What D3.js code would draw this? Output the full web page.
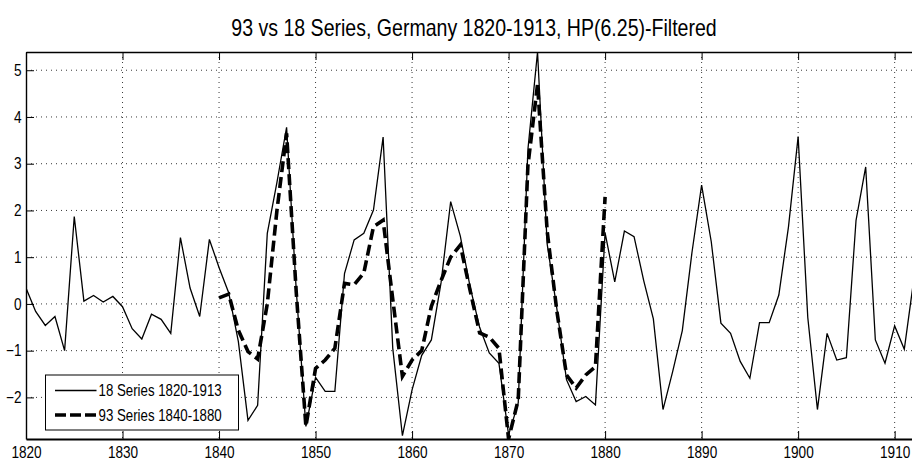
<!DOCTYPE html>
<html>
<head>
<meta charset="utf-8">
<script src="https://cdn.jsdelivr.net/npm/d3@7"></script>
<style>
  body { margin: 0; background: #fff; }
  text { font-family: "Liberation Sans", Arial, sans-serif; fill: #000; }
</style>
</head>
<body>
<svg id="chart" width="912" height="468"></svg>
<script>
// ---- data ----
var title = "93 vs 18 Series, Germany 1820-1913, HP(6.25)-Filtered";

// 18 series, yearly from 1820
var start18 = 1820;
var series18 = [
  0.34, -0.16, -0.46, -0.27, -1.00, 1.87, 0.06, 0.18, 0.04, 0.16,     // 1820-1829
  -0.06, -0.53, -0.75, -0.22, -0.33, -0.63, 1.42, 0.34, -0.27, 1.38,  // 1830-1839
  0.78, 0.24, -0.80, -2.49, -2.17, 1.51, 2.60, 3.78, 0.30, -2.62,     // 1840-1849
  -1.57, -1.87, -1.87, 0.65, 1.37, 1.51, 2.01, 3.57, -0.95, -2.82,    // 1850-1859
  -1.84, -1.10, -0.77, 0.45, 2.19, 1.45, 0.38, -0.50, -1.05, -1.27,   // 1860-1869
  -2.80, -2.12, 3.30, 5.39, 1.28, -0.10, -1.62, -2.09, -1.98, -2.16,  // 1870-1879
  1.52, 0.47, 1.56, 1.44, 0.50, -0.32, -2.26, -1.45, -0.57, 1.10,     // 1880-1889
  2.54, 1.33, -0.41, -0.63, -1.23, -1.59, -0.40, -0.40, 0.19, 1.65,   // 1890-1899
  3.58, -0.29, -2.26, -0.63, -1.20, -1.15, 1.79, 2.93, -0.77, -1.27,  // 1900-1909
  -0.47, -0.97, 0.55, 0.30                                            // 1910-1913
];

// 93 series, yearly from 1840
var start93 = 1840;
var series93 = [
  0.13, 0.21, -0.56, -1.02, -1.18, 0.00, 2.00, 3.65, 0.25, -2.62,     // 1840-1849
  -1.38, -1.20, -0.95, 0.44, 0.41, 0.66, 1.65, 1.79, 0.10, -1.55,     // 1850-1859
  -1.20, -1.00, -0.05, 0.50, 1.00, 1.26, 0.30, -0.62, -0.71, -0.95,   // 1860-1869
  -2.89, -2.05, 2.95, 4.70, 1.55, -0.15, -1.52, -1.80, -1.52, -1.34,  // 1870-1879
  2.29                                                                // 1880
];

var legendLabels = ["18 Series 1820-1913", "93 Series 1840-1880"];
var xTicks = [1820, 1830, 1840, 1850, 1860, 1870, 1880, 1890, 1900, 1910];
var yTicks = [-2, -1, 0, 1, 2, 3, 4, 5];

var data18 = series18.map(function(v, i) { return { year: start18 + i, v: v }; });
var data93 = series93.map(function(v, i) { return { year: start93 + i, v: v }; });

// ---- layout ----
var svg = d3.select("#chart");
var pLeft = 26, pTop = 52, pBottom = 439;
var pRight = 923.6; // axes run a bit past the visible picture
var squeeze = 0.85; // narrow the sans font like the original's condensed type

var x = d3.scaleLinear().domain([1820, 1913]).range([pLeft, pRight]);
var y = d3.scaleLinear()
  .domain(d3.extent(series18.concat(series93)))
  .range([pBottom, pTop]);

svg.append("rect").attr("width", 912).attr("height", 468).attr("fill", "#fff");

svg.append("text")
  .attr("transform", "translate(474,36) scale(" + squeeze + ",1)")
  .attr("text-anchor", "middle")
  .style("font-size", "23px")
  .text(title);

svg.append("defs").append("clipPath").attr("id", "plotclip")
  .append("rect")
  .attr("x", pLeft).attr("y", pTop)
  .attr("width", pRight - pLeft).attr("height", pBottom - pTop);

// grid
var grid = svg.append("g").attr("class", "grid");
grid.selectAll(".gx")
  .data(xTicks.slice(1))
  .enter().append("line")
  .attr("x1", function(d) { return x(d); })
  .attr("x2", function(d) { return x(d); })
  .attr("y1", pTop).attr("y2", pBottom)
  .attr("stroke", "#222").attr("stroke-width", 0.9)
  .attr("stroke-dasharray", "1,4");
grid.selectAll(".gy")
  .data(yTicks)
  .enter().append("line")
  .attr("x1", pLeft).attr("x2", pRight)
  .attr("y1", function(d) { return y(d); })
  .attr("y2", function(d) { return y(d); })
  .attr("stroke", "#222").attr("stroke-width", 0.9)
  .attr("stroke-dasharray", "1,4");

// lines
var line = d3.line()
  .x(function(d) { return x(d.year); })
  .y(function(d) { return y(d.v); });

var plot = svg.append("g").attr("clip-path", "url(#plotclip)");
plot.append("path")
  .datum(data18)
  .attr("d", line)
  .attr("fill", "none")
  .attr("stroke", "#000")
  .attr("stroke-width", 1.3);
plot.append("path")
  .datum(data93)
  .attr("d", line)
  .attr("fill", "none")
  .attr("stroke", "#000")
  .attr("stroke-width", 3.6)
  .attr("stroke-dasharray", "11,5");

// axes (inward ticks, box)
var tickLen = 8;
var xAxis = d3.axisBottom(x).tickValues(xTicks).tickFormat(d3.format("d"))
  .tickSizeInner(-tickLen).tickSizeOuter(0).tickPadding(8);
var gx = svg.append("g")
  .attr("transform", "translate(0," + pBottom + ")")
  .call(xAxis);
gx.select(".domain").attr("stroke-width", 2);
gx.selectAll("text")
  .style("font-size", "16px")
  .attr("transform", "scale(" + squeeze + ",1)");

var xTop = d3.axisTop(x).tickValues(xTicks).tickFormat("")
  .tickSizeInner(-tickLen).tickSizeOuter(0);
svg.append("g")
  .attr("transform", "translate(0," + pTop + ")")
  .call(xTop)
  .select(".domain").attr("stroke-width", 1.4);

var yAxis = d3.axisLeft(y).tickValues(yTicks).tickFormat(d3.format("d"))
  .tickSizeInner(-tickLen).tickSizeOuter(0).tickPadding(4.5);
var gy = svg.append("g")
  .attr("transform", "translate(" + pLeft + ",0)")
  .call(yAxis);
gy.select(".domain").attr("stroke-width", 1.4);
gy.selectAll("text")
  .style("font-size", "16px")
  .attr("x", -4.5 / squeeze)
  .attr("transform", "scale(" + squeeze + ",1)");

svg.selectAll(".tick line").attr("stroke", "#000");

// legend
var lg = svg.append("g").attr("transform", "translate(45.5,375)");
lg.append("rect")
  .attr("width", 193).attr("height", 55)
  .attr("fill", "#fff").attr("stroke", "#000").attr("stroke-width", 1);
var items = lg.selectAll(".item")
  .data(legendLabels)
  .enter().append("g")
  .attr("transform", function(d, i) { return "translate(0," + (15.5 + i * 24.5) + ")"; });
items.append("line")
  .attr("x1", 9.5).attr("x2", 51)
  .attr("stroke", "#000")
  .attr("stroke-width", function(d, i) { return i == 0 ? 1.3 : 3.6; })
  .attr("stroke-dasharray", function(d, i) { return i == 0 ? null : "11,4"; });
items.append("text")
  .attr("transform", "translate(53,5.5) scale(0.83,1)")
  .style("font-size", "16px")
  .text(function(d) { return d; });
</script>
</body>
</html>
